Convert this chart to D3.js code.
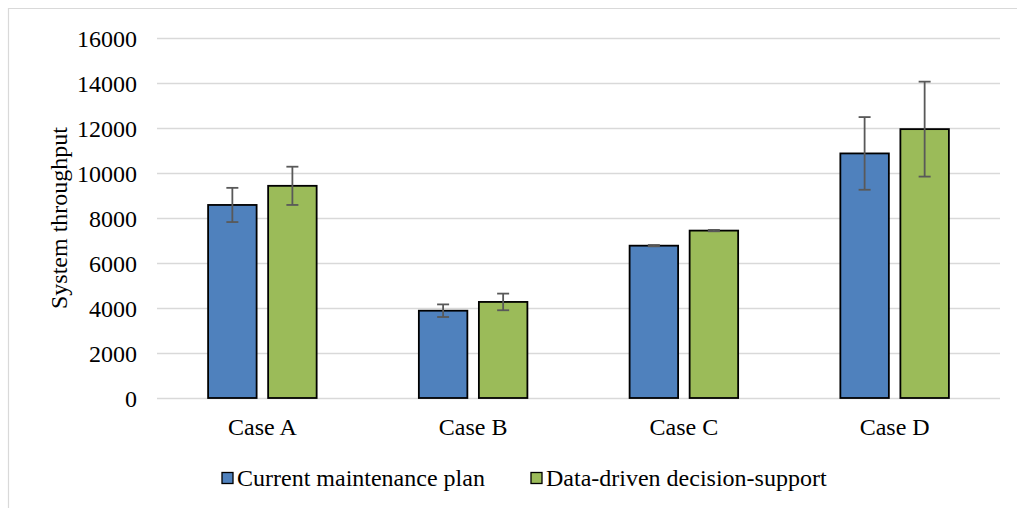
<!DOCTYPE html>
<html><head><meta charset="utf-8">
<script src="https://cdn.jsdelivr.net/npm/d3@7"></script>
<style>
html,body{margin:0;padding:0;background:#fff;}
svg{display:block;font-family:"Liberation Serif","Times New Roman",serif;}
</style></head>
<body>
<svg id="c" width="1017" height="508"></svg>
<script>
const categories = ["Case A", "Case B", "Case C", "Case D"];
const seriesNames = ["Current maintenance plan", "Data-driven decision-support"];
const currentValues = [8580, 3880, 6770, 10870];
const currentErrors = [760, 280, 30, 1615];
const dataDrivenValues = [9430, 4270, 7440, 11950];
const dataDrivenErrors = [850, 370, 30, 2110];
const yTicks = [0, 2000, 4000, 6000, 8000, 10000, 12000, 14000, 16000];
const colors = ["#4F81BD", "#9BBB59"];

(function () {
const svg = d3.select("#c");
const W = 1017, H = 508;
const pLeft = 157, pRight = 1000, pTop = 38, pBottom = 398;
const FS = 24;

// outer frame (top and left edges visible)
svg.append("line").attr("x1", 8).attr("x2", W).attr("y1", 8.5).attr("y2", 8.5)
  .attr("stroke", "#D9D9D9").attr("stroke-width", 1.2);
svg.append("line").attr("x1", 8.5).attr("x2", 8.5).attr("y1", 8).attr("y2", H)
  .attr("stroke", "#D9D9D9").attr("stroke-width", 1.2);

const y = d3.scaleLinear().domain([0, 16000]).range([pBottom, pTop]);
const x0 = d3.scaleBand().domain(categories).range([pLeft, pRight]).paddingInner(0).paddingOuter(0);
const bw = x0.bandwidth();
const groupW = bw * 0.515;
const x1 = d3.scaleBand().domain(seriesNames)
  .range([(bw - groupW) / 2, (bw + groupW) / 2]).paddingInner(0.192).paddingOuter(0);

// gridlines
const yAxis = d3.axisLeft(y).tickValues(yTicks).tickSize(-(pRight - pLeft)).tickFormat(d3.format("d"));
const ga = svg.append("g").attr("transform", `translate(${pLeft},0)`).call(yAxis);
ga.select(".domain").remove();
ga.selectAll(".tick line").attr("stroke", "#D9D9D9").attr("stroke-width", 1.5);
ga.selectAll(".tick text").attr("x", -20).attr("dy", "0.34em")
  .attr("font-size", FS).attr("fill", "#000").attr("font-family", "Liberation Serif");

// bars
const table = categories.map((c, i) => ({
  cat: c,
  vals: [
    {s: seriesNames[0], v: currentValues[i], e: currentErrors[i], col: colors[0]},
    {s: seriesNames[1], v: dataDrivenValues[i], e: dataDrivenErrors[i], col: colors[1]}
  ]
}));

const groups = svg.append("g").selectAll("g").data(table).join("g")
  .attr("transform", d => `translate(${x0(d.cat)},0)`);

groups.selectAll("rect").data(d => d.vals).join("rect")
  .attr("x", d => x1(d.s))
  .attr("y", d => y(d.v))
  .attr("width", x1.bandwidth())
  .attr("height", d => y(0) - y(d.v))
  .attr("fill", d => d.col)
  .attr("stroke", "#000").attr("stroke-width", 1.8);

// error bars
const eb = groups.selectAll("g.err").data(d => d.vals).join("g").attr("class", "err");
const capW = 6;
const cx = d => x1(d.s) + x1.bandwidth() / 2;
eb.append("line")
  .attr("x1", cx).attr("x2", cx)
  .attr("y1", d => y(d.v + d.e)).attr("y2", d => y(d.v - d.e))
  .attr("stroke", "#595959").attr("stroke-width", 1.8);
eb.append("line")
  .attr("x1", d => cx(d) - capW).attr("x2", d => cx(d) + capW)
  .attr("y1", d => y(d.v + d.e)).attr("y2", d => y(d.v + d.e))
  .attr("stroke", "#595959").attr("stroke-width", 1.8);
eb.append("line")
  .attr("x1", d => cx(d) - capW).attr("x2", d => cx(d) + capW)
  .attr("y1", d => y(d.v - d.e)).attr("y2", d => y(d.v - d.e))
  .attr("stroke", "#595959").attr("stroke-width", 1.8);

// x axis labels
const xAxis = d3.axisBottom(x0).tickSize(0);
const gx = svg.append("g").attr("transform", `translate(0,${pBottom})`).call(xAxis);
gx.select(".domain").remove();
gx.selectAll(".tick text").attr("y", 29).attr("dy", "0.34em")
  .attr("font-size", FS).attr("fill", "#000").attr("font-family", "Liberation Serif");

// y axis title
svg.append("text")
  .attr("transform", `translate(67,${(pTop + pBottom) / 2}) rotate(-90)`)
  .attr("text-anchor", "middle")
  .attr("font-size", FS).attr("fill", "#000")
  .text("System throughput");

// legend
const legendX = [222, 531];
const lg = svg.append("g").selectAll("g").data(seriesNames).join("g")
  .attr("transform", (d, i) => `translate(${legendX[i]},478)`);
lg.append("rect").attr("x", 0).attr("y", -5.5).attr("width", 11).attr("height", 11)
  .attr("fill", (d, i) => colors[i]).attr("stroke", "#000").attr("stroke-width", 1.3);
lg.append("text").attr("x", 15).attr("dy", "0.34em")
  .attr("font-size", FS).attr("fill", "#000").text(d => d);
})();
</script>
</body></html>
